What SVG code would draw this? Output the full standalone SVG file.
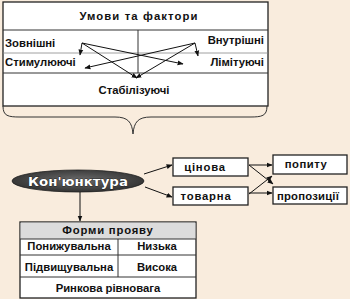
<svg xmlns="http://www.w3.org/2000/svg" width="350" height="299" viewBox="0 0 350 299">
<defs>
<marker id="ah" viewBox="0 0 10 10" refX="9" refY="5" markerWidth="6" markerHeight="6" orient="auto-start-reverse" markerUnits="userSpaceOnUse">
<path d="M0,1 L10,5 L0,9 z" fill="#111"/>
</marker>
<radialGradient id="eg" cx="50%" cy="45%" r="60%">
<stop offset="0" stop-color="#6a6a6a"/>
<stop offset="1" stop-color="#2e2e2e"/>
</radialGradient>
</defs>
<style>
.bg{fill:#f9ecdd}
.box{fill:#fff;stroke:#222;stroke-width:1.3}
.ln{stroke:#333;stroke-width:1;fill:none}
.faint{stroke:#888;stroke-width:0.8;fill:none}
.t{font-family:"Liberation Sans",Arial,sans-serif;font-weight:bold;font-size:11.3px;fill:#111}
.m{text-anchor:middle}
.e{text-anchor:end}
.ar{stroke:#111;stroke-width:1;fill:none;marker-end:url(#ah)}
.kt{font-family:"DejaVu Sans",sans-serif;font-weight:bold;font-size:12.5px;fill:#fff;stroke:#000;stroke-width:0.6;paint-order:stroke}
</style>
<rect class="bg" x="0" y="0" width="350" height="299"/>

<g id="factors">
<rect class="box" x="3" y="2" width="265" height="104"/>
<line class="ln" x1="3" y1="30" x2="268" y2="30"/>
<line class="faint" x1="3" y1="53" x2="268" y2="53"/>
<line class="ln" x1="3" y1="73" x2="268" y2="73"/>
<line class="ln" x1="138" y1="30" x2="138" y2="73"/>
<text class="t m" x="139" y="20" font-size="11.5" letter-spacing="1.1">Умови та фактори</text>
<text class="t" x="5" y="47">Зовнішні</text>
<text class="t e" x="264" y="44">Внутрішні</text>
<text class="t" x="5" y="66">Стимулюючі</text>
<text class="t e" x="264" y="66">Лімітуючі</text>
<text class="t m" x="134" y="94">Стабілізуючі</text>
</g>

<g id="brace">
<path class="ln" stroke-width="1.2" d="M3,106 C3,116 8,117 20,117 L115,117 C128,117 132,122 133,134 C134,122 138,117 151,117 L250,117 C262,117 267,116 267,106"/>
</g>

<g id="konjunktura">
<ellipse cx="78" cy="181" rx="66" ry="11" fill="url(#eg)" stroke="#222" stroke-width="0.8"/>
<text class="kt m" x="78" y="186" textLength="100" lengthAdjust="spacingAndGlyphs">Кон'юнктура</text>
</g>

<g id="cinova">
<rect class="box" x="173" y="158" width="75" height="18"/>
<text class="t m" x="205" y="171" letter-spacing="0.8">цінова</text>
</g>
<g id="tovarna">
<rect class="box" x="173" y="187" width="75" height="18"/>
<text class="t m" x="206" y="200" letter-spacing="0.8">товарна</text>
</g>
<g id="popytu">
<rect class="box" x="273" y="155" width="74" height="19"/>
<text class="t m" x="306" y="168" letter-spacing="0.5">попиту</text>
</g>
<g id="propozytsii">
<rect class="box" x="273" y="187" width="74" height="17"/>
<text class="t" x="277" y="199.5" letter-spacing="0.2">пропозиції</text>
</g>

<g id="forms">
<rect class="box" x="20" y="222" width="176" height="76"/>
<rect x="20.6" y="222.6" width="174.8" height="16.4" fill="#dcdcdc"/>
<line class="ln" x1="20" y1="239" x2="196" y2="239"/>
<line class="ln" x1="20" y1="255" x2="196" y2="255"/>
<line class="ln" x1="20" y1="277" x2="196" y2="277"/>
<line class="ln" x1="118" y1="239" x2="118" y2="277"/>
<text class="t m" x="108" y="234" letter-spacing="0.8">Форми прояву</text>
<text class="t m" x="69" y="250">Понижувальна</text>
<text class="t m" x="157" y="250">Низька</text>
<text class="t m" x="69" y="271">Підвищувальна</text>
<text class="t m" x="157" y="271">Висока</text>
<text class="t m" x="108" y="292">Ринкова рівновага</text>
</g>

<g id="connectors">
<path class="ar" d="M82,43 L80,55"/>
<path class="ar" d="M82,43 L137,78"/>
<path class="ar" d="M82,43 L183,64"/>
<path class="ar" d="M195,43 L198,56"/>
<path class="ar" d="M195,43 L85,68"/>
<path class="ar" d="M195,43 L136,78"/>
<path class="ar" d="M144,174 L172,165"/>
<path class="ar" d="M145,187 L172,197"/>
<path class="ar" d="M249,165 L272,165"/>
<path class="ar" d="M249,165 L273,184"/>
<path class="ar" d="M249,194 L272,176"/>
<path class="ar" d="M249,193 L272,193"/>
<path class="ar" d="M80,192 L80,221"/>
</g>
</svg>
